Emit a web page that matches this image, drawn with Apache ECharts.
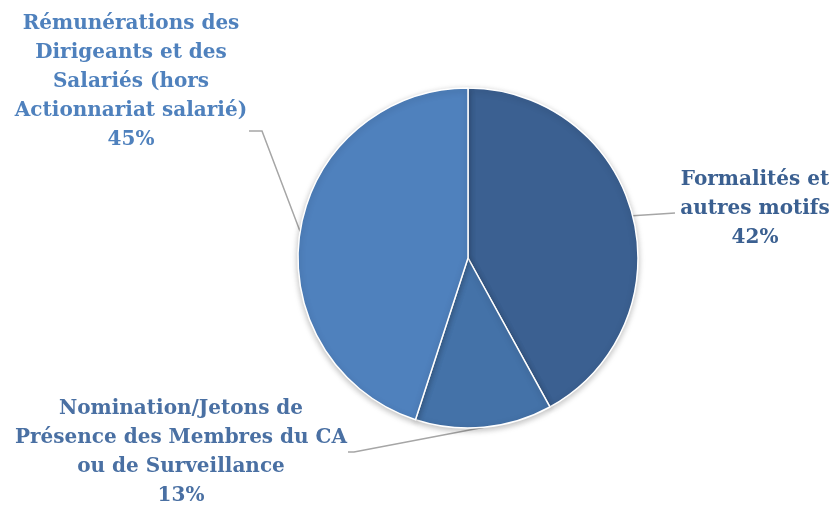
<!DOCTYPE html>
<html>
<head>
<meta charset="utf-8">
<script src="https://cdn.jsdelivr.net/npm/echarts@6/dist/echarts.min.js"></script>
<style>
  html, body { margin: 0; padding: 0; background: #fff; }
  #main { width: 837px; height: 508px; }
</style>
</head>
<body>
<div id="main"></div>
<script>
var categories = [
  'Formalités et\nautres motifs',
  'Nomination/Jetons de\nPrésence des Membres du CA\nou de Surveillance',
  'Rémunérations des\nDirigeants et des\nSalariés (hors\nActionnariat salarié)'
];
var values = [42, 13, 45];
var sliceColors = ['#3B6091', '#4472A8', '#4F81BD'];
var labelColors = ['#3B6091', '#4A70A3', '#4F81BD'];
// label centres
var labelPos = [[755, 209], [181, 452], [131, 82]];
// bend + end of each leader line
var guidePts = [
  [[660, 214], [675, 213]],
  [[354, 452], [348, 452]],
  [[262, 131], [249, 131]]
];

var myChart = echarts.init(document.getElementById('main'));

var data = [];
for (var i = 0; i < categories.length; i++) {
  data.push({
    name: categories[i],
    value: values[i],
    itemStyle: { color: sliceColors[i] },
    label: { color: labelColors[i] }
  });
}

var option = {
  animation: false,
  series: [
    {
      type: 'pie',
      center: [468, 258],
      radius: 170,
      startAngle: 90,
      clockwise: true,
      data: data,
      itemStyle: {
        borderColor: '#fff',
        borderWidth: 1.5,
        shadowBlur: 6,
        shadowColor: 'rgba(0,0,0,0.25)',
        shadowOffsetY: 2
      },
      label: {
        show: true,
        formatter: '{b}\n{d}%',
        fontFamily: 'DejaVu Serif',
        fontWeight: 'bold',
        fontSize: 20,
        lineHeight: 29,
        align: 'center',
        overflow: 'none'
      },
      labelLine: {
        show: true,
        length: 20,
        length2: 10,
        lineStyle: { color: '#A6A6A6', width: 1.5 }
      },
      labelLayout: function (params) {
        var p = labelPos[params.dataIndex];
        var g = guidePts[params.dataIndex];
        var out = { x: p[0], y: p[1], align: 'center', verticalAlign: 'middle', width: 360 };
        if (params.labelLinePoints) {
          out.labelLinePoints = [params.labelLinePoints[0], g[0], g[1]];
        }
        return out;
      }
    }
  ]
};
myChart.setOption(option);
</script>
</body>
</html>
